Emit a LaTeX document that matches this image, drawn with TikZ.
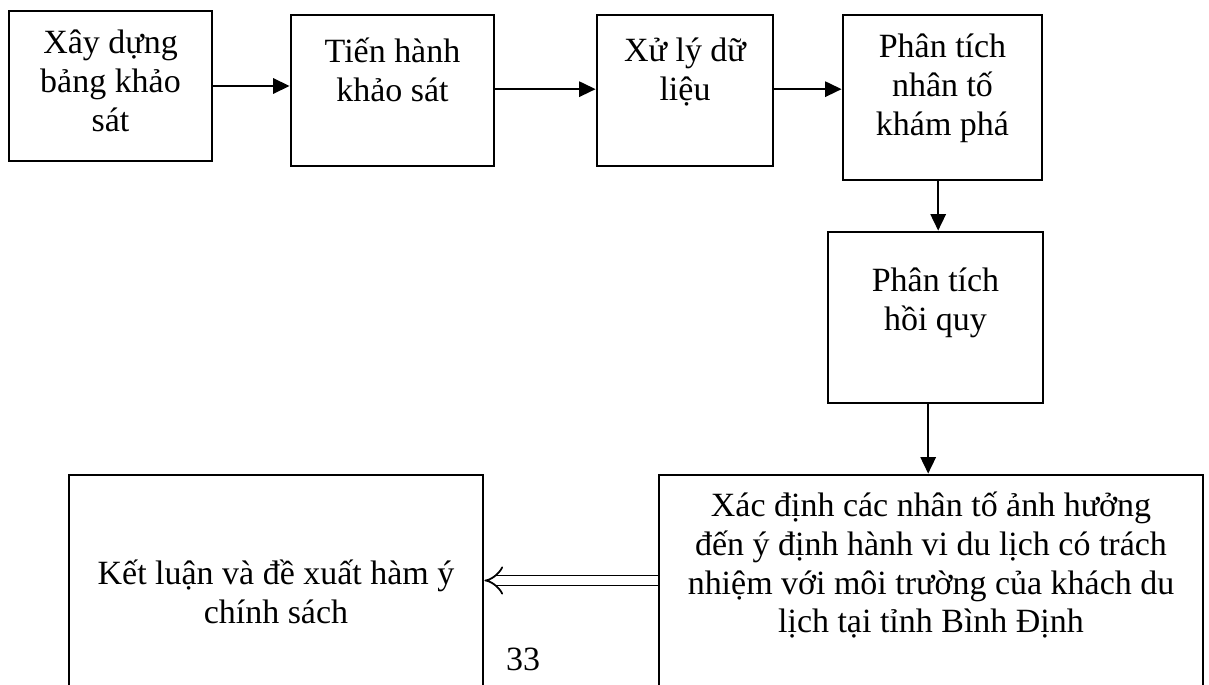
\documentclass[tikz,border=0pt]{standalone}
\usepackage{fontspec}
\setmainfont{Liberation Serif}
\usepackage{tikz}
\usetikzlibrary{arrows.meta, positioning, calc}

% box text: width, height, space above first line, lines
\newcommand{\boxtext}[4]{\begin{minipage}[c][#2][t]{#1}\centering\vspace*{#3}\strut #4\end{minipage}}

\begin{document}
\begin{tikzpicture}[x=0.03cm, y=-0.03cm,
  stepbox/.style={rectangle, draw=black, line width=2.4pt, inner sep=0pt, font=\fontsize{29pt}{32.9pt}\selectfont},
  arrow/.style={-{Triangle[length=14pt, width=13pt]}, line width=1.8pt},
  dblarrow/.style={double, double distance=7pt, line width=1.5pt, -{Implies}}
]
  \useasboundingbox (0,0) rectangle (1209,685);

  % Top row
  \node[stepbox] (build) at (110.5,86) {\boxtext{6.09cm}{4.5cm}{0.48cm}{Xây dựng\\bảng khảo\\sát}};
  \node[stepbox] (survey) at (392.5,90.5) {\boxtext{6.09cm}{4.53cm}{0.63cm}{Tiến hành\\khảo sát}};
  \node[stepbox] (data) at (685,90.5) {\boxtext{5.28cm}{4.53cm}{0.6cm}{Xử lý dữ\\liệu}};
  \node[stepbox] (efa) at (942.5,97.5) {\boxtext{5.97cm}{4.95cm}{0.48cm}{Phân tích\\nhân tố\\khám phá}};

  \draw[arrow] (build.east) -- (build.east -| survey.west);
  \draw[arrow] ([yshift=0.04cm]survey.east) -- ([yshift=0.04cm]survey.east -| data.west);
  \draw[arrow] ([yshift=0.04cm]data.east) -- ([yshift=0.04cm]data.east -| efa.west);

  % Right column
  \node[stepbox] (regr) at (935.5,317.5) {\boxtext{6.45cm}{5.13cm}{0.99cm}{Phân tích\\hồi quy}};
  \node[stepbox] (factors) at (931,587.5) {\boxtext{16.32cm}{6.75cm}{0.45cm}{Xác định các nhân tố ảnh hưởng\\đến ý định hành vi du lịch có trách\\nhiệm với môi trường của khách du\\lịch tại tỉnh Bình Định}};

  \draw[arrow] ([xshift=-0.13cm]efa.south) -- ([xshift=-0.13cm]efa.south |- regr.north);
  \draw[arrow] ([xshift=-0.22cm]regr.south) -- ([xshift=-0.22cm]regr.south |- factors.north);

  % Bottom left
  \node[stepbox] (concl) at (276,587.5) {\boxtext{12.42cm}{6.75cm}{2.49cm}{Kết luận và đề xuất hàm ý\\chính sách}};
  \draw[dblarrow] ([yshift=0.21cm]factors.west) -- ([yshift=0.21cm]factors.west -| concl.east);

  \node[font=\fontsize{29pt}{32.9pt}\selectfont] (page) at (523,659) {33};
\end{tikzpicture}
\end{document}
